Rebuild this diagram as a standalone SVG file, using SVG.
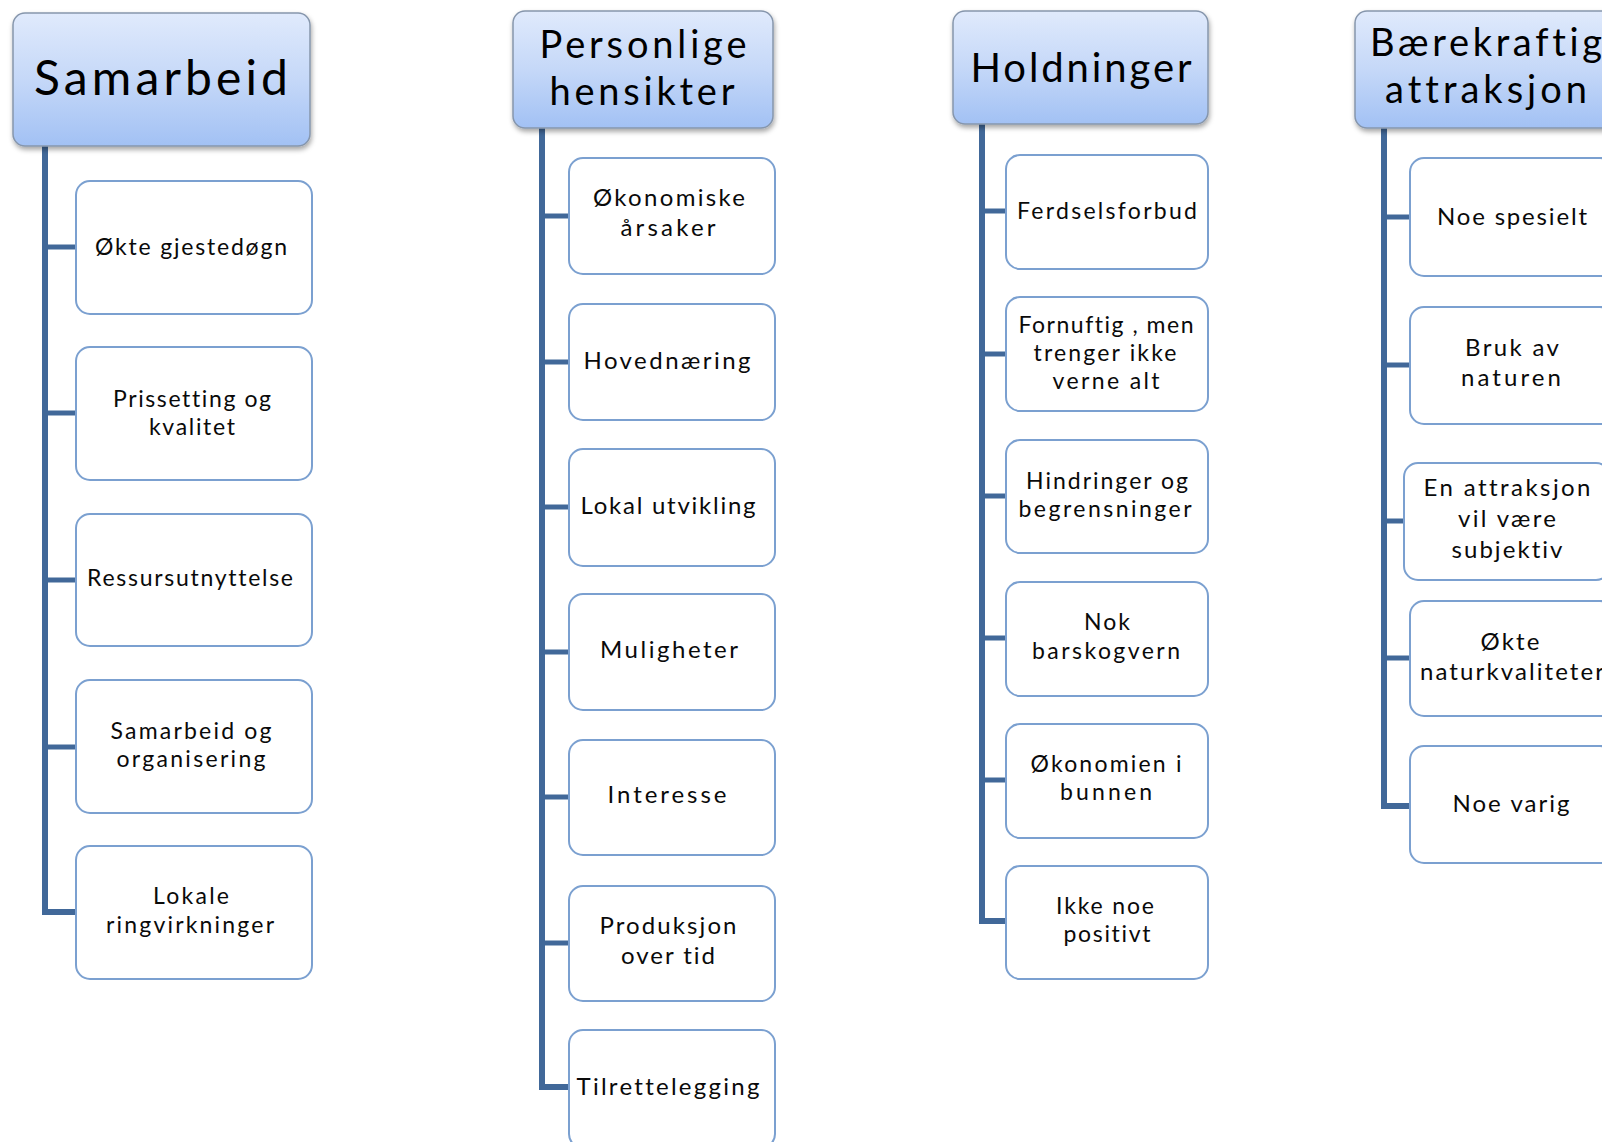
<svg xmlns="http://www.w3.org/2000/svg" width="1602" height="1142" viewBox="0 0 1602 1142">
<defs>
<linearGradient id="hg" x1="0" y1="0" x2="0" y2="1">
<stop offset="0" stop-color="#e0eafc"/>
<stop offset="0.5" stop-color="#c5d8f8"/>
<stop offset="1" stop-color="#a2c1f4"/>
</linearGradient>
<filter id="sh" x="-10%" y="-10%" width="125%" height="130%">
<feDropShadow dx="1" dy="3" stdDeviation="2.5" flood-color="#000" flood-opacity="0.35"/>
</filter>
</defs>
<style>
text{font-variant-ligatures:none;font-feature-settings:"liga" 0,"clig" 0}
.hdr{fill:url(#hg);stroke:#8696ac;stroke-width:1.5;filter:url(#sh)}
.box{fill:#fff;stroke:#7ba0d0;stroke-width:2}
.ht{font-family:Lato,"Open Sans",sans-serif;fill:#000;text-anchor:middle}
.ct{font-family:Lato,"Open Sans",sans-serif;fill:#0a0a0a;text-anchor:middle;font-size:23px}
.c2{font-size:24px}
.conn{fill:none;stroke:#416899;stroke-width:6;stroke-linejoin:miter}
.br{stroke:#416899;stroke-width:5}
</style>
<rect width="1602" height="1142" fill="#fff"/>

<g id="connectors">
<path class="conn" d="M45,146 V912 H77"/>
<line class="br" x1="45" y1="247" x2="77" y2="247"/>
<line class="br" x1="45" y1="413" x2="77" y2="413"/>
<line class="br" x1="45" y1="580" x2="77" y2="580"/>
<line class="br" x1="45" y1="747" x2="77" y2="747"/>

<path class="conn" d="M542,128 V1087 H569"/>
<line class="br" x1="542" y1="216" x2="569" y2="216"/>
<line class="br" x1="542" y1="362" x2="569" y2="362"/>
<line class="br" x1="542" y1="507" x2="569" y2="507"/>
<line class="br" x1="542" y1="652" x2="569" y2="652"/>
<line class="br" x1="542" y1="797" x2="569" y2="797"/>
<line class="br" x1="542" y1="943" x2="569" y2="943"/>

<path class="conn" d="M982,124 V921 H1006"/>
<line class="br" x1="982" y1="211" x2="1006" y2="211"/>
<line class="br" x1="982" y1="354" x2="1006" y2="354"/>
<line class="br" x1="982" y1="496" x2="1006" y2="496"/>
<line class="br" x1="982" y1="638" x2="1006" y2="638"/>
<line class="br" x1="982" y1="780" x2="1006" y2="780"/>

<path class="conn" d="M1384,128 V806 H1410"/>
<line class="br" x1="1384" y1="217" x2="1410" y2="217"/>
<line class="br" x1="1384" y1="365" x2="1410" y2="365"/>
<line class="br" x1="1384" y1="521" x2="1404" y2="521"/>
<line class="br" x1="1384" y1="658" x2="1410" y2="658"/>
</g>

<!-- Column 1 -->
<g id="h-samarbeid">
<rect class="hdr" x="13" y="13" width="297" height="133" rx="12"/>
<text class="ht" x="161" y="95" font-size="48" textLength="254">Samarbeid</text>
</g>
<g id="n-okte-gjestedogn">
<rect class="box" x="76" y="181" width="236" height="133" rx="14"/>
<text class="ct" x="191" y="255" textLength="192">Økte gjestedøgn</text>
</g>
<g id="n-prissetting">
<rect class="box" x="76" y="347" width="236" height="133" rx="14"/>
<text class="ct" x="192" y="407" textLength="158">Prissetting og</text>
<text class="ct" x="192" y="435" textLength="86">kvalitet</text>
</g>
<g id="n-ressurs">
<rect class="box" x="76" y="514" width="236" height="132" rx="14"/>
<text class="ct" x="190" y="586" textLength="206">Ressursutnyttelse</text>
</g>
<g id="n-samarbeid-org">
<rect class="box" x="76" y="680" width="236" height="133" rx="14"/>
<text class="ct" x="191" y="739" textLength="161">Samarbeid og</text>
<text class="ct" x="191" y="767" textLength="149">organisering</text>
</g>
<g id="n-lokale">
<rect class="box" x="76" y="846" width="236" height="133" rx="14"/>
<text class="ct" x="191" y="904" textLength="76">Lokale</text>
<text class="ct" x="190" y="933" textLength="168">ringvirkninger</text>
</g>

<!-- Column 2 -->
<g id="h-personlige">
<rect class="hdr" x="513" y="11" width="260" height="117" rx="12"/>
<text class="ht" x="643" y="58" font-size="38" textLength="207">Personlige</text>
<text class="ht" x="642" y="105" font-size="38" textLength="185">hensikter</text>
</g>
<g id="n-okonomiske">
<rect class="box" x="569" y="158" width="206" height="116" rx="14"/>
<text class="ct c2" x="669" y="206" textLength="152">Økonomiske</text>
<text class="ct c2" x="668" y="236" textLength="95">årsaker</text>
</g>
<g id="n-hovednaering">
<rect class="box" x="569" y="304" width="206" height="116" rx="14"/>
<text class="ct c2" x="667" y="369" textLength="167">Hovednæring</text>
</g>
<g id="n-lokal-utvikling">
<rect class="box" x="569" y="449" width="206" height="117" rx="14"/>
<text class="ct c2" x="668" y="514" textLength="175">Lokal utvikling</text>
</g>
<g id="n-muligheter">
<rect class="box" x="569" y="594" width="206" height="116" rx="14"/>
<text class="ct c2" x="669" y="658" textLength="138">Muligheter</text>
</g>
<g id="n-interesse">
<rect class="box" x="569" y="740" width="206" height="115" rx="14"/>
<text class="ct c2" x="667" y="803" textLength="119">Interesse</text>
</g>
<g id="n-produksjon">
<rect class="box" x="569" y="886" width="206" height="115" rx="14"/>
<text class="ct c2" x="668" y="934" textLength="137">Produksjon</text>
<text class="ct c2" x="668" y="964" textLength="94">over tid</text>
</g>
<g id="n-tilrettelegging">
<rect class="box" x="569" y="1030" width="206" height="118" rx="14"/>
<text class="ct c2" x="668" y="1095" textLength="183">Tilrettelegging</text>
</g>

<!-- Column 3 -->
<g id="h-holdninger">
<rect class="hdr" x="953" y="11" width="255" height="113" rx="12"/>
<text class="ht" x="1081" y="82" font-size="40" textLength="221">Holdninger</text>
</g>
<g id="n-ferdselsforbud">
<rect class="box" x="1006" y="155" width="202" height="114" rx="14"/>
<text class="ct" x="1107" y="219" textLength="180">Ferdselsforbud</text>
</g>
<g id="n-fornuftig">
<rect class="box" x="1006" y="297" width="202" height="114" rx="14"/>
<text class="ct" x="1106" y="333" textLength="175">Fornuftig , men</text>
<text class="ct" x="1105" y="361" textLength="143">trenger ikke</text>
<text class="ct" x="1106" y="389" textLength="107">verne alt</text>
</g>
<g id="n-hindringer">
<rect class="box" x="1006" y="440" width="202" height="113" rx="14"/>
<text class="ct" x="1107" y="489" textLength="162">Hindringer og</text>
<text class="ct" x="1105" y="517" textLength="173">begrensninger</text>
</g>
<g id="n-nok">
<rect class="box" x="1006" y="582" width="202" height="114" rx="14"/>
<text class="ct" x="1107" y="630" textLength="46">Nok</text>
<text class="ct" x="1106" y="659" textLength="148">barskogvern</text>
</g>
<g id="n-okonomien">
<rect class="box" x="1006" y="724" width="202" height="114" rx="14"/>
<text class="ct" x="1106" y="772" textLength="151">Økonomien i</text>
<text class="ct" x="1106" y="800" textLength="92">bunnen</text>
</g>
<g id="n-ikke-noe">
<rect class="box" x="1006" y="866" width="202" height="113" rx="14"/>
<text class="ct" x="1105" y="914" textLength="98">Ikke noe</text>
<text class="ct" x="1107" y="942" textLength="87">positivt</text>
</g>

<!-- Column 4 -->
<g id="h-baerekraftig">
<rect class="hdr" x="1355" y="11" width="262" height="117" rx="12"/>
<text class="ht" x="1486" y="56" font-size="38" textLength="232">Bærekraftig</text>
<text class="ht" x="1486" y="103" font-size="38" textLength="202">attraksjon</text>
</g>
<g id="n-noe-spesielt">
<rect class="box" x="1410" y="158" width="204" height="118" rx="14"/>
<text class="ct c2" x="1512" y="225" textLength="150">Noe spesielt</text>
</g>
<g id="n-bruk-av-naturen">
<rect class="box" x="1410" y="307" width="204" height="117" rx="14"/>
<text class="ct c2" x="1512" y="356" textLength="94">Bruk av</text>
<text class="ct c2" x="1511" y="386" textLength="100">naturen</text>
</g>
<g id="n-en-attraksjon">
<rect class="box" x="1404" y="463" width="206" height="117" rx="14"/>
<text class="ct c2" x="1507" y="496" textLength="167">En attraksjon</text>
<text class="ct c2" x="1507" y="527" textLength="98">vil være</text>
<text class="ct c2" x="1507" y="558" textLength="111">subjektiv</text>
</g>
<g id="n-okte-naturkvaliteter">
<rect class="box" x="1410" y="601" width="204" height="115" rx="14"/>
<text class="ct c2" x="1510" y="650" textLength="59">Økte</text>
<text class="ct c2" x="1512" y="680" textLength="184">naturkvaliteter</text>
</g>
<g id="n-noe-varig">
<rect class="box" x="1410" y="746" width="204" height="117" rx="14"/>
<text class="ct c2" x="1511" y="812" textLength="117">Noe varig</text>
</g>
</svg>
